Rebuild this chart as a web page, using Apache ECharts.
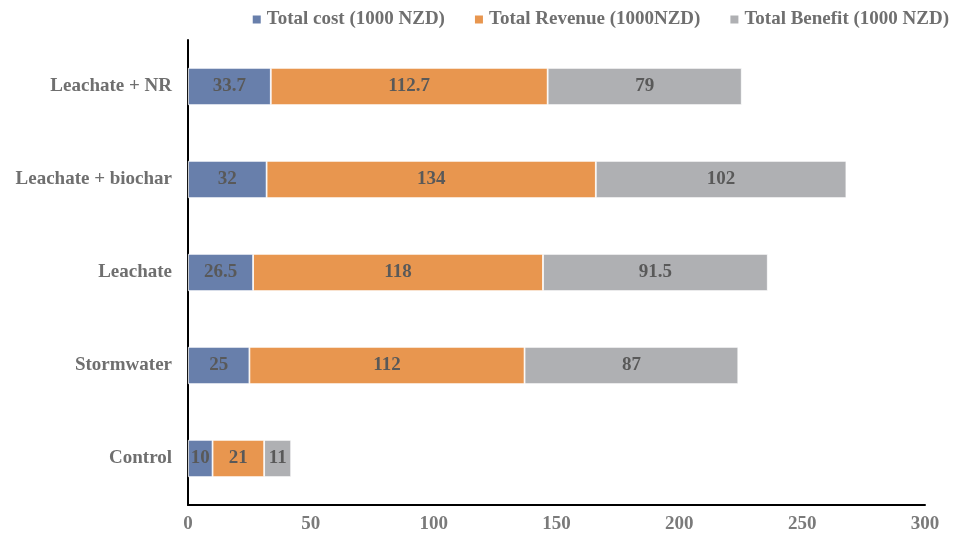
<!DOCTYPE html>
<html>
<head>
<meta charset="utf-8">
<script src="https://cdn.jsdelivr.net/npm/echarts@6/dist/echarts.min.js"></script>
<style>
  html, body { margin: 0; padding: 0; background: #fff; }
  #chart { width: 960px; height: 536px; }
  .probe { font-family: 'Liberation Serif'; font-weight: bold; position: absolute; left: -9999px; }
</style>
</head>
<body>
<span class="probe">Leachate 0123</span>
<div id="chart"></div>
<script>
// Treatments, listed bottom to top on the category axis
const categories = ['Control', 'Stormwater', 'Leachate', 'Leachate + biochar', 'Leachate + NR'];
const totalCost = [10, 25, 26.5, 32, 33.7];
const totalRevenue = [21, 112, 118, 134, 112.7];
const totalBenefit = [11, 87, 91.5, 102, 79];
const xTicks = [0, 50, 100, 150, 200, 250, 300];

const seriesNames = ['Total cost (1000 NZD)', 'Total Revenue (1000NZD)', 'Total Benefit (1000 NZD)'];
const colors = ['#687fab', '#e8964f', '#afb0b3'];
const font = "'Liberation Serif', 'Times New Roman', 'DejaVu Serif', serif";

function barSeries(name, data, color) {
  return {
    name: name,
    type: 'bar',
    stack: 'total',
    data: data,
    barCategoryGap: '60%',
    itemStyle: { color: color, borderColor: '#ffffff', borderWidth: 0.8 },
    label: {
      show: true,
      position: 'inside',
      color: '#595959',
      fontFamily: font,
      fontWeight: 'bold',
      fontSize: 19
    }
  };
}

function draw() {
  const chart = echarts.init(document.getElementById('chart'));
  chart.setOption({
    animation: false,
    textStyle: { fontFamily: font },
    legend: {
      top: 5,
      right: 6,
      itemWidth: 10,
      itemHeight: 10,
      itemGap: 28,
      icon: 'rect',
      textStyle: { color: '#6f6f6f', fontFamily: font, fontWeight: 'bold', fontSize: 19 },
      data: seriesNames
    },
    grid: { left: 188, right: 35, top: 40, bottom: 31, containLabel: false },
    xAxis: {
      type: 'value',
      min: xTicks[0],
      max: xTicks[xTicks.length - 1],
      interval: 50,
      axisLine: { show: true, lineStyle: { color: '#000', width: 2 } },
      axisTick: { show: false },
      splitLine: { show: false },
      axisLabel: { color: '#7a7a7a', fontFamily: font, fontWeight: 'bold', fontSize: 19, margin: 10 }
    },
    yAxis: {
      type: 'category',
      data: categories,
      axisLine: { show: true, lineStyle: { color: '#000', width: 2 } },
      axisTick: { show: false },
      axisLabel: { color: '#6f6f6f', fontFamily: font, fontWeight: 'bold', fontSize: 19, margin: 16 }
    },
    series: [
      barSeries(seriesNames[0], totalCost, colors[0]),
      barSeries(seriesNames[1], totalRevenue, colors[1]),
      barSeries(seriesNames[2], totalBenefit, colors[2])
    ]
  });
}

if (document.fonts && document.fonts.load) {
  document.fonts.load("bold 19px 'Liberation Serif'").then(draw, draw);
} else {
  draw();
}
</script>
</body>
</html>
